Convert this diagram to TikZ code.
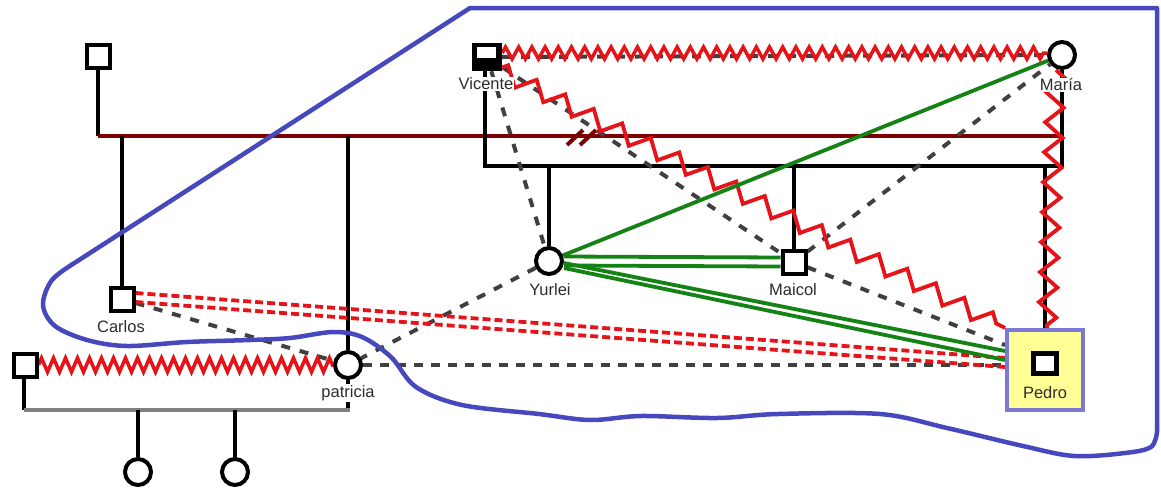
\documentclass[tikz,border=0pt]{standalone}
\usepackage{fontspec}
\setmainfont{Liberation Sans}
\usetikzlibrary{decorations.pathmorphing,calc}
\definecolor{rd}{RGB}{230,20,25}
\definecolor{drd}{RGB}{125,0,0}
\definecolor{dgr}{RGB}{64,64,64}
\definecolor{grn}{RGB}{20,130,20}
\definecolor{blu}{RGB}{72,72,190}
\definecolor{pbord}{RGB}{122,122,214}
\definecolor{pfill}{RGB}{255,255,150}
\definecolor{txt}{RGB}{45,45,45}
\definecolor{gry}{RGB}{128,128,128}
\pgfdeclarelayer{back}
\pgfdeclarelayer{lines}
\pgfsetlayers{back,lines,main}
\begin{document}
\begin{tikzpicture}[x=1pt,y=-1pt,
  sq/.style={rectangle,draw=black,fill=white,line width=4pt,minimum size=23pt,inner sep=0pt},
  ci/.style={circle,draw=black,fill=white,line width=4pt,minimum size=26pt,inner sep=0pt},
  lbl/.style={font=\fontsize{16.5}{18}\selectfont,text=txt,fill=white,inner sep=1pt},
  kin/.style={line width=3.5pt,black},
  marr/.style={line width=3.5pt,drd},
  sib/.style={line width=3.5pt,gry},
  gdash/.style={line width=4pt,dgr,dash pattern=on 9pt off 10pt},
  hdash/.style={line width=4pt,dgr,dash pattern=on 9pt off 8pt},
  rdash/.style={line width=3.8pt,rd,dash pattern=on 8pt off 4pt},
  gline/.style={line width=3.8pt,grn},
  zzs/.style={rd,line width=3.5pt,decorate,decoration={zigzag,segment length=13.2pt,amplitude=6pt}},
  zzl/.style={rd,line width=3.5pt,decorate,decoration={zigzag,segment length=12pt,amplitude=7pt}},
  zzb/.style={rd,line width=3.8pt,decorate,decoration={zigzag,segment length=32pt,amplitude=8.5pt}},
  zzv/.style={rd,line width=3.8pt,decorate,decoration={zigzag,segment length=30pt,amplitude=9pt}},
  blueline/.style={blu,line width=4.5pt,line join=round,line cap=round}]
\begin{pgfonlayer}{back}
\fill[white] (0,0) rectangle (1161,490);
\end{pgfonlayer}
\useasboundingbox (0,0) rectangle (1161,490);

% persons
\node[sq] (gp) at (98,56) {};
\node[rectangle,fill=black,minimum width=30pt,minimum height=28pt,inner sep=0pt] (vic) at (487,57) {};
\fill[white] (477,47) rectangle (496,58);
\node[ci] (mar) at (1062,55) {};
\node[sq] (car) at (122,299) {};
\node[sq] (lsq) at (25,365) {};
\node[ci] (pat) at (348,365) {};
\node[ci] (ch1) at (138,472) {};
\node[ci] (ch2) at (235,472) {};
\node[ci] (yur) at (549,261) {};
\node[sq] (mai) at (794,262) {};
\node[rectangle,draw=pbord,fill=pfill,line width=4pt,minimum width=76pt,minimum height=80pt,inner sep=0pt] (pbox) at (1045,370) {};
\node[sq,line width=5pt,minimum width=23pt,minimum height=20pt] (ped) at (1045,363) {};

% labels
\node[lbl] (lvic) at (486,84) {Vicente};
\node[lbl] (lmar) at (1061,85) {María};
\node[lbl] (lcar) at (121,327) {Carlos};
\node[lbl] (lpat) at (348,393) {patricia};
\node[lbl] (lyur) at (550,290) {Yurlei};
\node[lbl] (lmai) at (793,290) {Maicol};
\node[lbl,fill=pfill] (lped) at (1045,393) {Pedro};

\begin{pgfonlayer}{lines}
% family lines
\coordinate (r1) at (98,136);
\coordinate (r2) at (1062,136);
\draw[kin] (gp.south) -- (r1);
\draw[marr] (r1) -- (r2);
\draw[kin] (car.north |- r1) -- (car.north);
\draw[kin] (pat.north |- r1) -- (pat.north);
\draw[marr,line width=4pt] (567,145) -- (583,130);
\draw[marr,line width=4pt] (580,145) -- (596,130);

\coordinate (b1) at (485,166);
\coordinate (b2) at (1062,166);
\draw[kin] (vic.south -| b1) -- (b1) -- (b2) -- (mar.south);
\draw[kin] (yur.north |- b1) -- (yur.north);
\draw[kin] (mai.north |- b1) -- (mai.north);
\draw[kin] (pbox.north |- b1) -- (pbox.north);

\coordinate (s1) at (24,410);
\coordinate (s2) at (350,410);
\draw[kin] (lsq.south -| s1) -- (s1);
\draw[kin] (pat.south) -- (pat.south |- s2);
\draw[sib] (s1) -- (s2);
\draw[kin] (ch1.north |- s1) -- (ch1.north);
\draw[kin] (ch2.north |- s1) -- (ch2.north);

% dashed gray relations
\draw[gdash] (vic.east) -- (mar.west);
\draw[gdash] (vic) -- (yur);
\draw[gdash] (vic) -- (mai);
\draw[gdash] (mai) -- (mar);
\draw[gdash] (mai) -- ($(pbox.west)+(0,-25)$);
\draw[gdash] (yur) -- (pat);
\draw[gdash] (car) -- (pat);
\draw[hdash] (pat.east) -- (pat.east -| pbox.west);

% red dashed double
\draw[rdash] ($(car.east)+(0,-6)$) -- ($(pbox.west)+(0,-12)$);
\draw[rdash] ($(car.east)+(0,3)$) -- ($(pbox.west)+(0,-3)$);

% zigzags
\draw[zzs] ($(vic.east)+(0,-4)$) -- ($(mar.west)+(0,-2)$);
\draw[zzl] (lsq.east) -- (pat.west);
\draw[zzb] ($(vic.south east)+(-5,-2)$) -- (pbox.north west);
\draw[zzv] ($(mar.south)+(-6,0)$) -- ($(pbox.north)+(2,0)$);

% green
\draw[gline] (yur) -- (mar);
\draw[gline] ($(yur.east)+(0,-4.5)$) -- ($(mai.west)+(0,-4.5)$);
\draw[gline] ($(yur.east)+(0,4.5)$) -- ($(mai.west)+(0,4.5)$);
\draw[gline] ($(yur.east)+(0,2)$) -- ($(pbox.west)+(0,-19)$);
\draw[gline] ($(yur.east)+(0,7)$) -- ($(pbox.west)+(0,-10)$);
\end{pgfonlayer}

% blue boundary
\draw[blueline] (1157,432) -- (1157,8) -- (470,8) -- (76,262)
  -- plot[smooth,tension=0.55] coordinates {(76,262) (52,280) (43,305) (55,326) (87,340) (127,346) (187,342) (250,340) (290,338) (333,332) (362,337) (391,357) (416,387) (462,405) (539,414) (590,420) (641,416) (717,418) (778,414) (880,414) (947,428) (1023,446) (1074,456) (1125,453) (1151,447) (1157,432)};
\end{tikzpicture}
\end{document}
